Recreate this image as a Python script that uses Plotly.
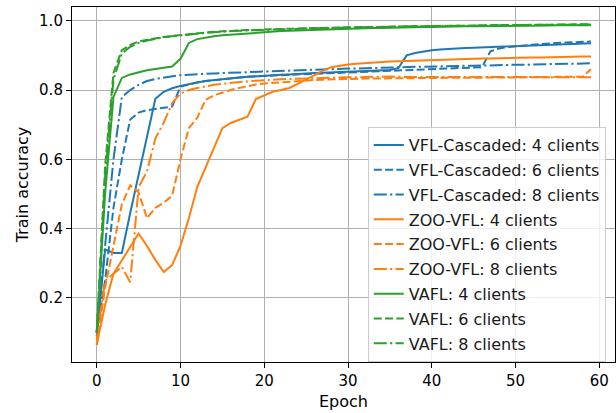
import plotly.graph_objects as go

epochs = list(range(60))

vfl4 = [0.09,0.34,0.33,0.33,0.445,0.555,0.665,0.775,0.795,0.805,
0.812,0.818,0.822,0.826,0.829,0.832,0.834,0.836,0.838,0.840,
0.841,0.842,0.844,0.845,0.847,0.848,0.849,0.850,0.851,0.852,
0.853,0.854,0.855,0.856,0.857,0.858,0.863,0.900,0.907,0.912,
0.915,0.917,0.919,0.920,0.921,0.922,0.923,0.924,0.925,0.926,
0.927,0.928,0.929,0.930,0.931,0.932,0.933,0.934,0.934,0.935]

vfl6 = [0.10,0.25,0.46,0.60,0.715,0.735,0.742,0.745,0.749,0.752,
0.810,0.817,0.822,0.826,0.829,0.832,0.834,0.836,0.838,0.840,
0.841,0.842,0.843,0.844,0.845,0.846,0.847,0.848,0.849,0.850,
0.851,0.852,0.853,0.854,0.855,0.856,0.857,0.858,0.859,0.860,
0.861,0.862,0.863,0.864,0.865,0.865,0.866,0.912,0.920,0.924,
0.927,0.929,0.931,0.933,0.935,0.936,0.937,0.938,0.939,0.940]

vfl8 = [0.10,0.36,0.60,0.78,0.80,0.815,0.826,0.832,0.836,0.840,
0.843,0.844,0.846,0.847,0.848,0.849,0.850,0.851,0.852,0.852,
0.853,0.854,0.855,0.856,0.857,0.858,0.859,0.860,0.860,0.861,
0.862,0.862,0.863,0.863,0.864,0.864,0.865,0.866,0.867,0.867,
0.868,0.868,0.869,0.869,0.870,0.870,0.871,0.871,0.872,0.872,
0.873,0.873,0.874,0.874,0.875,0.875,0.876,0.876,0.877,0.877]

zoo4 = [0.065,0.18,0.27,0.31,0.35,0.386,0.35,0.31,0.275,0.295,
0.35,0.43,0.52,0.575,0.635,0.69,0.705,0.715,0.723,0.774,
0.785,0.795,0.80,0.806,0.818,0.831,0.843,0.856,0.866,0.871,
0.874,0.876,0.878,0.879,0.880,0.882,0.883,0.884,0.885,0.886,
0.887,0.888,0.889,0.889,0.890,0.890,0.891,0.891,0.892,0.892,
0.893,0.893,0.894,0.894,0.895,0.895,0.896,0.896,0.897,0.897]

zoo6 = [0.065,0.23,0.35,0.47,0.525,0.505,0.43,0.46,0.475,0.495,
0.60,0.69,0.72,0.772,0.785,0.793,0.800,0.806,0.812,0.816,
0.819,0.821,0.823,0.825,0.827,0.828,0.829,0.830,0.831,0.832,
0.832,0.833,0.833,0.833,0.834,0.834,0.834,0.834,0.835,0.835,
0.835,0.835,0.835,0.836,0.836,0.836,0.836,0.836,0.836,0.837,
0.837,0.837,0.837,0.837,0.837,0.838,0.838,0.838,0.838,0.860]

zoo8 = [0.08,0.25,0.27,0.29,0.245,0.52,0.565,0.66,0.706,0.762,
0.790,0.800,0.806,0.811,0.815,0.818,0.821,0.823,0.825,0.827,
0.829,0.830,0.831,0.832,0.833,0.834,0.835,0.836,0.836,0.837,
0.837,0.837,0.838,0.838,0.838,0.839,0.838,0.838,0.839,0.838,
0.838,0.839,0.838,0.838,0.838,0.839,0.838,0.838,0.838,0.839,
0.838,0.838,0.838,0.837,0.838,0.838,0.838,0.837,0.837,0.837]

vafl4 = [0.10,0.50,0.78,0.835,0.845,0.852,0.857,0.861,0.864,0.868,
0.890,0.936,0.947,0.952,0.955,0.958,0.960,0.962,0.964,0.966,
0.968,0.969,0.970,0.971,0.972,0.973,0.974,0.975,0.976,0.977,
0.977,0.978,0.978,0.979,0.979,0.980,0.980,0.981,0.981,0.982,
0.982,0.983,0.983,0.983,0.984,0.984,0.984,0.985,0.985,0.985,
0.985,0.986,0.986,0.986,0.986,0.987,0.987,0.987,0.987,0.987]

vafl6 = [0.10,0.58,0.85,0.915,0.930,0.940,0.945,0.950,0.953,0.956,
0.959,0.962,0.964,0.966,0.968,0.970,0.971,0.972,0.973,0.974,
0.975,0.976,0.977,0.977,0.978,0.978,0.979,0.979,0.980,0.980,
0.981,0.981,0.982,0.982,0.983,0.983,0.983,0.984,0.984,0.984,
0.985,0.985,0.985,0.986,0.986,0.986,0.987,0.987,0.987,0.988,
0.988,0.988,0.988,0.989,0.989,0.989,0.989,0.990,0.990,0.990]

vafl8 = [0.10,0.55,0.83,0.905,0.925,0.936,0.943,0.948,0.952,0.955,
0.958,0.961,0.963,0.965,0.967,0.969,0.970,0.971,0.972,0.973,
0.974,0.975,0.976,0.977,0.977,0.978,0.978,0.979,0.979,0.980,
0.980,0.981,0.981,0.982,0.982,0.983,0.983,0.983,0.984,0.984,
0.984,0.985,0.985,0.985,0.986,0.986,0.986,0.987,0.987,0.987,
0.987,0.988,0.988,0.988,0.988,0.989,0.989,0.989,0.989,0.989]

methods = ["VFL-Cascaded", "ZOO-VFL", "VAFL"]
clients = [4, 6, 8]
series = [[vfl4, vfl6, vfl8], [zoo4, zoo6, zoo8], [vafl4, vafl6, vafl8]]
colors = ["#1f77b4", "#ff7f0e", "#2ca02c"]
dashes = ["solid", "8px,3.3px", "13px,3.3px,2.2px,3.3px"]

x_ticks = [0, 10, 20, 30, 40, 50, 60]
y_ticks = [0.2, 0.4, 0.6, 0.8, 1.0]

fig = go.Figure()
k = 0
for mi, m in enumerate(methods):
    for ci, c in enumerate(clients):
        fig.add_trace(go.Scatter(
            x=epochs, y=series[mi][ci], mode="lines",
            name=f"{m}: {c} clients", legendgroup=f"g{k}",
            line=dict(color=colors[mi], width=2, dash=dashes[ci]),
        ))
        k += 1

font = "DejaVu Sans"
fig.update_layout(
    width=616, height=413,
    margin=dict(l=72, r=1, t=7, b=51),
    plot_bgcolor="white", paper_bgcolor="white",
    font=dict(family=font, size=15, color="black"),
    showlegend=True,
    legend=dict(
        x=0.983, y=0.662, xanchor="right", yanchor="top",
        bgcolor="rgba(255,255,255,0.8)", bordercolor="#cccccc", borderwidth=1,
        font=dict(family=font, size=16, color="#1a1a1a"),
        tracegroupgap=1,
    ),
    xaxis=dict(
        range=[-2.95, 61.87], tickvals=x_ticks, ticktext=[str(t) for t in x_ticks],
        showgrid=True, gridcolor="#b0b0b0", gridwidth=1,
        showline=True, linecolor="black", linewidth=1.1, mirror=True,
        ticks="outside", ticklen=5, tickcolor="black", tickwidth=1.1,
        zeroline=False, tickfont=dict(size=15),
        title=dict(text="Epoch", standoff=6, font=dict(size=16)),
    ),
    yaxis=dict(
        range=[0.0153, 1.0396], tickvals=y_ticks, ticktext=[f"{t:.1f}" for t in y_ticks],
        showgrid=True, gridcolor="#b0b0b0", gridwidth=1,
        showline=True, linecolor="black", linewidth=1.1, mirror=True,
        ticks="outside", ticklen=5, tickcolor="black", tickwidth=1.1,
        zeroline=False, tickfont=dict(size=15),
        title=dict(text="Train accuracy", standoff=6, font=dict(size=16)),
    ),
)

fig.write_html("out.html")
